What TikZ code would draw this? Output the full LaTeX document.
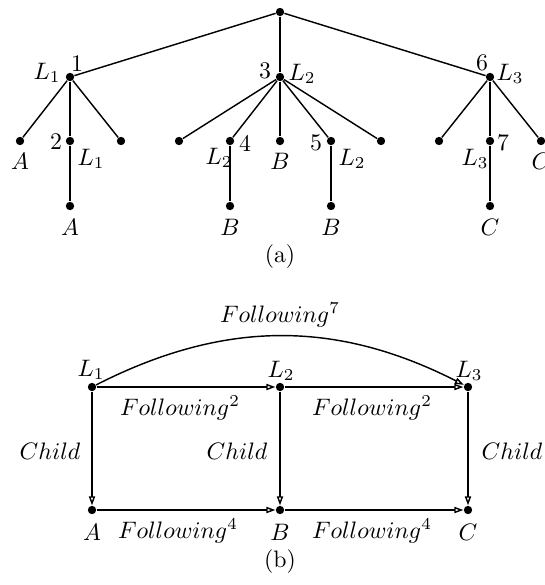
\documentclass[tikz,border=0pt]{standalone}
\usetikzlibrary{arrows.meta}
\begin{document}
\begin{tikzpicture}[x=0.42pt,y=-0.42pt,
  dot/.style={circle,fill=black,inner sep=0pt,minimum size=3.5pt},
  lbl/.style={inner sep=0pt,anchor=center},
  edge/.style={line width=0.6pt},
  arr/.style={line width=0.6pt,-{Triangle[open,length=3.8pt,width=2.6pt]}}]
\useasboundingbox (0,0) rectangle (544,585);
% ---------- (a) tree ----------
\node[dot] (r) at (280,12) {};
\node[dot] (n1) at (70,77) {};
\node[dot] (n3) at (280,77) {};
\node[dot] (n6) at (490,77) {};
\node[dot] (a1) at (20,141) {};
\node[dot] (n2) at (70,141) {};
\node[dot] (a3) at (121,141) {};
\node[dot] (b1) at (179,141) {};
\node[dot] (n4) at (230,141) {};
\node[dot] (b3) at (280,141) {};
\node[dot] (n5) at (331,141) {};
\node[dot] (b5) at (381,141) {};
\node[dot] (c1) at (439,141) {};
\node[dot] (n7) at (490,141) {};
\node[dot] (c3) at (541,141) {};
\node[dot] (d2) at (70,206) {};
\node[dot] (d4) at (230,206) {};
\node[dot] (d5) at (331,206) {};
\node[dot] (d7) at (490,206) {};
\foreach \p/\c in {r/n1,r/n3,r/n6,n1/a1,n1/n2,n1/a3,n3/b1,n3/n4,n3/b3,n3/n5,n3/b5,n6/c1,n6/n7,n6/c3,n2/d2,n4/d4,n5/d5,n7/d7}
  \draw[edge] (\p) -- (\c);
\node[lbl] (t1) at (77,64) {1};
\node[lbl] (tL1) at (47,73) {$L_1$};
\node[lbl] (tA1) at (20,161) {$A$};
\node[lbl] (t2) at (56,142) {2};
\node[lbl] (tL1b) at (91,159) {$L_1$};
\node[lbl] (tA2) at (70,227) {$A$};
\node[lbl] (t3) at (265,71) {3};
\node[lbl] (tL2) at (302,74) {$L_2$};
\node[lbl] (tL2b) at (219,158) {$L_2$};
\node[lbl] (t4) at (245,143) {4};
\node[lbl] (tB1) at (280,161) {$B$};
\node[lbl] (t5) at (316,143) {5};
\node[lbl] (tL2c) at (352,159) {$L_2$};
\node[lbl] (tB2) at (230,227) {$B$};
\node[lbl] (tB3) at (331,227) {$B$};
\node[lbl] (t6) at (482,63) {6};
\node[lbl] (tL3) at (510,74) {$L_3$};
\node[lbl] (tL3b) at (475,159) {$L_3$};
\node[lbl] (t7) at (503,143) {7};
\node[lbl] (tC1) at (541,161) {$C$};
\node[lbl] (tC2) at (490,227) {$C$};
\node[lbl] (capa) at (280,257) {(a)};
% ---------- (b) graph ----------
\node[dot] (L1) at (92,387) {};
\node[dot] (L2) at (280,387) {};
\node[dot] (L3) at (468,387) {};
\node[dot] (A) at (92,510) {};
\node[dot] (B) at (280,510) {};
\node[dot] (C) at (468,510) {};
\draw[arr] (L1) -- (L2);
\draw[arr] (L2) -- (L3);
\draw[arr] (A) -- (B);
\draw[arr] (B) -- (C);
\draw[arr] (L1) -- (A);
\draw[arr] (L2) -- (B);
\draw[arr] (L3) -- (C);
\draw[arr] (L1) to[bend left=27] (L3);
\node[lbl] (lL1) at (91,370) {$L_1$};
\node[lbl] (lL2) at (281,371) {$L_2$};
\node[lbl] (lL3) at (469,371) {$L_3$};
\node[lbl] (lA) at (92,532) {$A$};
\node[lbl] (lB) at (280,532) {$B$};
\node[lbl] (lC) at (468,532) {$C$};
\node[lbl] (f2a) at (180,408) {$Following^2$};
\node[lbl] (f2b) at (372,408) {$Following^2$};
\node[lbl] (f4a) at (178,531) {$Following^4$};
\node[lbl] (f4b) at (372,531) {$Following^4$};
\node[lbl] (f7) at (280,315) {$Following^7$};
\node[lbl] (ch1) at (50,451) {$Child$};
\node[lbl] (ch2) at (237,451) {$Child$};
\node[lbl] (ch3) at (512,451) {$Child$};
\node[lbl] (capb) at (280,562) {(b)};
\end{tikzpicture}
\end{document}
